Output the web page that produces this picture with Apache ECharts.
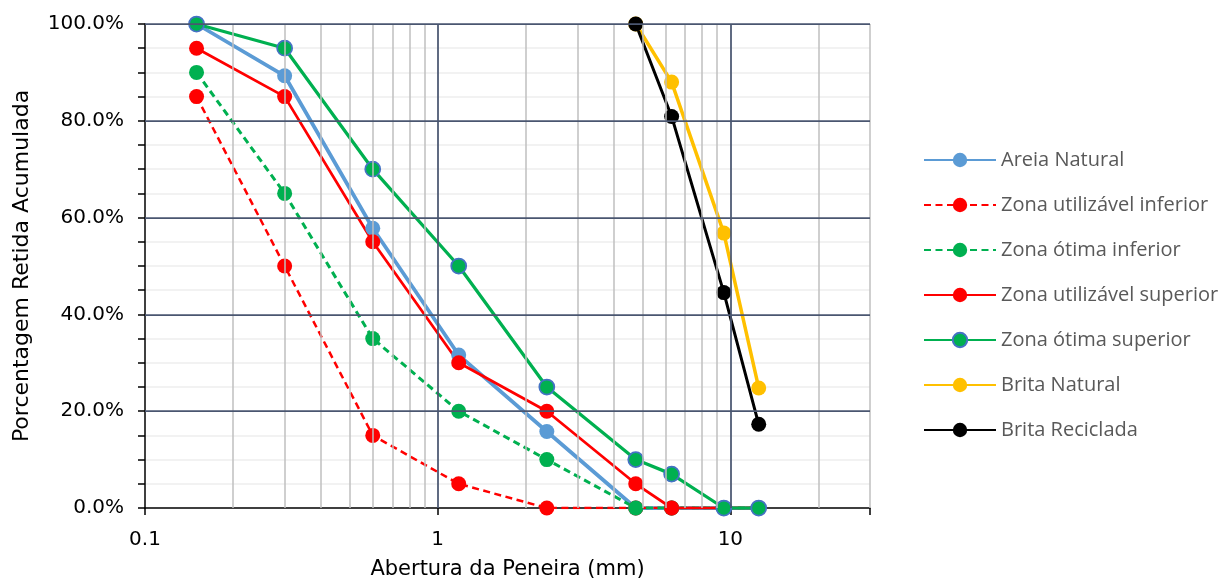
<!DOCTYPE html>
<html>
<head>
<meta charset="utf-8">
<script src="https://cdn.jsdelivr.net/npm/echarts@6/dist/echarts.min.js"></script>
<style>
html,body{margin:0;padding:0;background:#fff;}
#chart{width:1228px;height:585px;}
</style>
</head>
<body>
<div id="chart"></div>
<script>
// ---- data ----
const sieves = [0.15, 0.3, 0.6, 1.18, 2.36, 4.75, 6.3, 9.5, 12.5];
const britaSieves = [4.75, 6.3, 9.5, 12.5];

const areiaNatural = [100, 89.3, 57.8, 31.6, 15.8, 0, 0, 0, 0];
const zonaUtilInferior = [85, 50, 15, 5, 0, 0, 0, 0, 0];
const zonaOtimaInferior = [90, 65, 35, 20, 10, 0, 0, 0, 0];
const zonaUtilSuperior = [95, 85, 55, 30, 20, 5, 0, 0, 0];
const zonaOtimaSuperior = [100, 95, 70, 50, 25, 10, 7, 0, 0];
const britaNatural = [100, 88.0, 56.8, 24.8];
const britaReciclada = [100, 80.9, 44.5, 17.3];

const xMin = 0.1, xMax = 30;
const xMinorGrid = [0.2,0.3,0.4,0.5,0.6,0.7,0.8,0.9,2,3,4,5,6,7,8,9,20,30];
const xMajorGrid = [1, 10];
const yMajorGrid = [20, 40, 60, 80, 100];

// ---- build ----
const pair = (xs, ys) => xs.map((x, i) => [x, ys[i]]);

const gridLines = [];
xMinorGrid.forEach(v => gridLines.push({xAxis: v, lineStyle: {color: '#BFBFBF', width: 1.5, type: 'solid'}}));
yMajorGrid.forEach(v => gridLines.push({yAxis: v, lineStyle: {color: '#4A5670', width: 1.75, type: 'solid'}}));
xMajorGrid.forEach(v => gridLines.push({xAxis: v, lineStyle: {color: '#4A5670', width: 1.75, type: 'solid'}}));

function mk(name, xs, ys, color, width, dashed, border) {
  return {
    name: name, type: 'line', data: pair(xs, ys),
    symbol: 'circle', symbolSize: 15, showSymbol: true,
    lineStyle: {color: color, width: width, type: dashed ? [7, 4.5] : 'solid'},
    itemStyle: {color: color, borderColor: border || color, borderWidth: border ? 1.75 : 0},
    z: 3
  };
}

const chart = echarts.init(document.getElementById('chart'), null, {renderer: 'canvas'});
const labelFont = 'DejaVu Sans';
chart.setOption({
  animation: false,
  backgroundColor: '#ffffff',
  grid: {left: 145, right: 358, top: 24, bottom: 70, containLabel: false},
  legend: {
    orient: 'vertical', left: 918, top: 144,
    itemWidth: 72, itemHeight: 18, itemGap: 23,
    textStyle: {fontFamily: 'Open Sans', fontSize: 20, color: '#595959', lineHeight: 22},
    data: ['Areia Natural', 'Zona utilizável inferior', 'Zona ótima inferior', 'Zona utilizável superior', 'Zona ótima superior', 'Brita Natural', 'Brita Reciclada']
  },
  xAxis: {
    type: 'log', logBase: 10, min: xMin, max: xMax,
    name: 'Abertura da Peneira (mm)', nameLocation: 'middle', nameGap: 51,
    nameTextStyle: {fontFamily: labelFont, fontSize: 21, color: '#000'},
    axisLine: {show: true, onZero: false, lineStyle: {color: '#000', width: 1.5}},
    axisTick: {show: true, length: 7, lineStyle: {color: '#000', width: 1.5}},
    axisLabel: {
      fontFamily: labelFont, fontSize: 20, color: '#000', margin: 22,
      formatter: v => (v === 0.1 || v === 1 || v === 10) ? String(v) : ''
    },
    splitLine: {show: false}
  },
  yAxis: {
    type: 'value', min: 0, max: 100, interval: 20,
    name: 'Porcentagem Retida Acumulada', nameLocation: 'middle', nameGap: 112, nameRotate: 90,
    nameTextStyle: {fontFamily: labelFont, fontSize: 22, color: '#000'},
    axisLine: {show: true, lineStyle: {color: '#000', width: 1.5}},
    axisTick: {show: true, length: 7, lineStyle: {color: '#000', width: 1.5}},
    minorTick: {show: true, splitNumber: 4, length: 7, lineStyle: {color: '#000', width: 1.5}},
    minorSplitLine: {show: true, lineStyle: {color: '#EEEEEE', width: 1.5}},
    splitLine: {show: false},
    axisLabel: {fontFamily: labelFont, fontSize: 20, color: '#000', margin: 21, formatter: v => v.toFixed(1) + '%'}
  },
  series: [
    {
      name: '__grid', type: 'line', data: [], z: 1, silent: true,
      markLine: {silent: true, symbol: ['none', 'none'], label: {show: false}, emphasis: {disabled: true}, animation: false, data: gridLines}
    },
    mk('Areia Natural', sieves, areiaNatural, '#5B9BD5', 3.75),
    mk('Zona utilizável inferior', sieves, zonaUtilInferior, '#FF0000', 2.5, true),
    mk('Zona ótima inferior', sieves, zonaOtimaInferior, '#00B050', 3, true),
    mk('Zona utilizável superior', sieves, zonaUtilSuperior, '#FF0000', 2.75),
    mk('Zona ótima superior', sieves, zonaOtimaSuperior, '#00B050', 3.25, false, '#4472C4'),
    mk('Brita Natural', britaSieves, britaNatural, '#FFC000', 3.5),
    mk('Brita Reciclada', britaSieves, britaReciclada, '#000000', 3)
  ]
});
</script>
</body>
</html>
